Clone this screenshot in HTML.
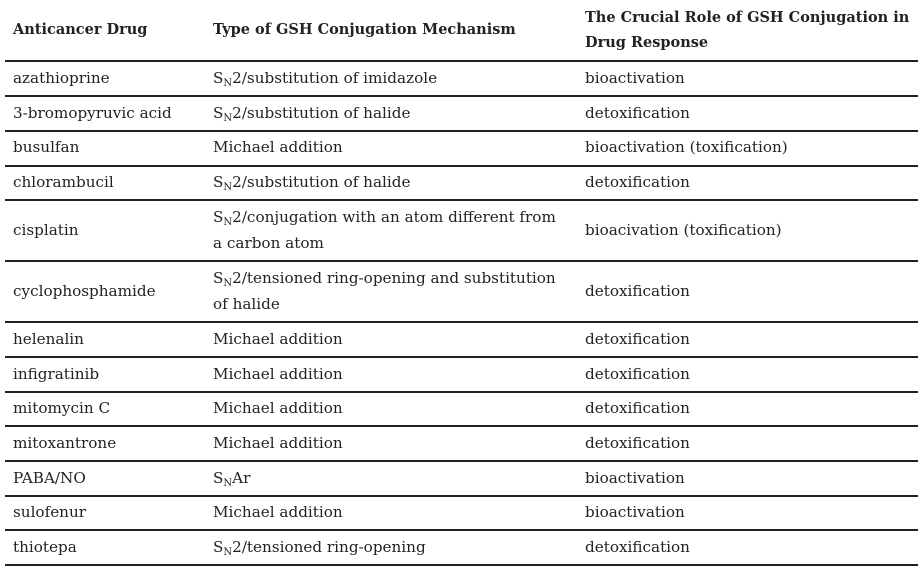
<!DOCTYPE html>
<html><head><meta charset="utf-8"><style>
body{margin:0;width:920px;height:565px;background:#fff;position:relative;overflow:hidden;font-family:"DejaVu Serif","Liberation Serif",serif;font-size:15.2px;color:#222}
.t{position:absolute;white-space:nowrap;line-height:20px;transform:translateY(-50%)}
.b{font-weight:bold;font-size:14.5px}
.l{position:absolute;left:5px;width:913px;height:1.5px;background:#222}
sub{font-size:10px;vertical-align:-3px;line-height:0}
</style></head><body>
<div class="t b" style="left:13px;top:30px">Anticancer Drug</div>
<div class="t b" style="left:213px;top:30px">Type of GSH Conjugation Mechanism</div>
<div class="t b" style="left:585px;top:18px">The Crucial Role of GSH Conjugation in</div>
<div class="t b" style="left:585px;top:43px">Drug Response</div>

<div class="l" style="top:60px"></div>
<div class="l" style="top:95px"></div>
<div class="l" style="top:130px"></div>
<div class="l" style="top:165px"></div>
<div class="l" style="top:199px"></div>
<div class="l" style="top:260px"></div>
<div class="l" style="top:321px"></div>
<div class="l" style="top:356px"></div>
<div class="l" style="top:391px"></div>
<div class="l" style="top:425px"></div>
<div class="l" style="top:460px"></div>
<div class="l" style="top:495px"></div>
<div class="l" style="top:529px"></div>
<div class="l" style="top:564px"></div>

<div class="t" style="left:13px;top:78px">azathioprine</div>
<div class="t" style="left:213px;top:78px">S<sub>N</sub>2/substitution of imidazole</div>
<div class="t" style="left:585px;top:78px">bioactivation</div>

<div class="t" style="left:13px;top:113px">3-bromopyruvic acid</div>
<div class="t" style="left:213px;top:113px">S<sub>N</sub>2/substitution of halide</div>
<div class="t" style="left:585px;top:113px">detoxification</div>

<div class="t" style="left:13px;top:147px">busulfan</div>
<div class="t" style="left:213px;top:147px">Michael addition</div>
<div class="t" style="left:585px;top:147px">bioactivation (toxification)</div>

<div class="t" style="left:13px;top:182px">chlorambucil</div>
<div class="t" style="left:213px;top:182px">S<sub>N</sub>2/substitution of halide</div>
<div class="t" style="left:585px;top:182px">detoxification</div>

<div class="t" style="left:13px;top:230px">cisplatin</div>
<div class="t" style="left:213px;top:217px">S<sub>N</sub>2/conjugation with an atom different from</div>
<div class="t" style="left:213px;top:243px">a carbon atom</div>
<div class="t" style="left:585px;top:230px">bioacivation (toxification)</div>

<div class="t" style="left:13px;top:291px">cyclophosphamide</div>
<div class="t" style="left:213px;top:278px">S<sub>N</sub>2/tensioned ring-opening and substitution</div>
<div class="t" style="left:213px;top:304px">of halide</div>
<div class="t" style="left:585px;top:291px">detoxification</div>

<div class="t" style="left:13px;top:339px">helenalin</div>
<div class="t" style="left:213px;top:339px">Michael addition</div>
<div class="t" style="left:585px;top:339px">detoxification</div>

<div class="t" style="left:13px;top:374px">infigratinib</div>
<div class="t" style="left:213px;top:374px">Michael addition</div>
<div class="t" style="left:585px;top:374px">detoxification</div>

<div class="t" style="left:13px;top:408px">mitomycin C</div>
<div class="t" style="left:213px;top:408px">Michael addition</div>
<div class="t" style="left:585px;top:408px">detoxification</div>

<div class="t" style="left:13px;top:443px">mitoxantrone</div>
<div class="t" style="left:213px;top:443px">Michael addition</div>
<div class="t" style="left:585px;top:443px">detoxification</div>

<div class="t" style="left:13px;top:478px">PABA/NO</div>
<div class="t" style="left:213px;top:478px">S<sub>N</sub>Ar</div>
<div class="t" style="left:585px;top:478px">bioactivation</div>

<div class="t" style="left:13px;top:512px">sulofenur</div>
<div class="t" style="left:213px;top:512px">Michael addition</div>
<div class="t" style="left:585px;top:512px">bioactivation</div>

<div class="t" style="left:13px;top:547px">thiotepa</div>
<div class="t" style="left:213px;top:547px">S<sub>N</sub>2/tensioned ring-opening</div>
<div class="t" style="left:585px;top:547px">detoxification</div>
</body></html>
